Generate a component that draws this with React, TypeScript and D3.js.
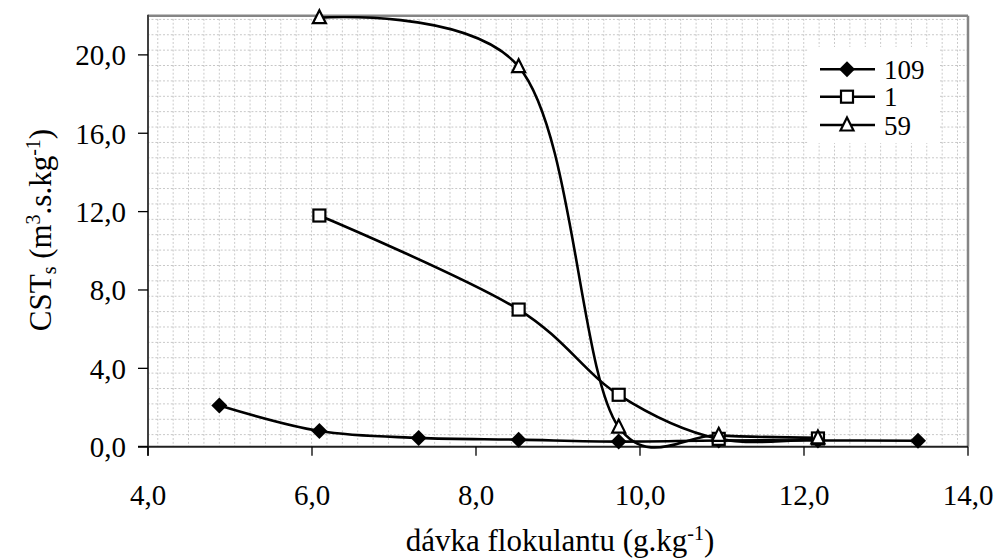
import React from "react";
import * as d3 from "d3";

const xValues = [4.87, 6.09, 7.3, 8.52, 9.74, 10.96, 12.17, 13.39];
const s109 = [2.1, 0.8, 0.45, 0.36, 0.26, 0.32, 0.32, 0.3];
const xShort = [6.09, 8.52, 9.74, 10.96, 12.17];
const s1 = [11.8, 7.0, 2.65, 0.4, 0.42];
const s59 = [21.9, 19.4, 1.0, 0.58, 0.45];
const xTicks = [4, 6, 8, 10, 12, 14];
const yTicks = [0, 4, 8, 12, 16, 20];
const legendLabels = ["109", "1", "59"];

const W = 997, H = 558;
const L = 148, R = 968, T = 15.7, B = 446.7;
const FONT = '"Liberation Serif", "DejaVu Serif", "Noto Serif", "Times New Roman", Times, serif';
const fmt = (v: number) => v.toFixed(1).replace(".", ",");

export default function App() {
  const x = d3.scaleLinear().domain([4, 14]).range([L, R]);
  const y = d3.scaleLinear().domain([0, 22]).range([B, T]);
  const line = d3
    .line<[number, number]>()
    .x((d) => x(d[0]))
    .y((d) => y(d[1]))
    .curve(d3.curveCatmullRom.alpha(0.2));

  const d109 = xValues.map((v, i) => [v, s109[i]] as [number, number]);
  const d1 = xShort.map((v, i) => [v, s1[i]] as [number, number]);
  const d59 = xShort.map((v, i) => [v, s59[i]] as [number, number]);

  const diamond = (cx: number, cy: number, k: string | number) => (
    <path key={k} d={`M${cx},${cy - 8}L${cx + 8},${cy}L${cx},${cy + 8}L${cx - 8},${cy}Z`} fill="#000" />
  );
  const square = (cx: number, cy: number, k: string | number) => (
    <rect key={k} x={cx - 6} y={cy - 6} width={12} height={12} fill="#fff" stroke="#000" strokeWidth={2.2} />
  );
  const triangle = (cx: number, cy: number, k: string | number) => (
    <path key={k} d={`M${cx},${cy - 7.5}L${cx + 6.5},${cy + 5.5}L${cx - 6.5},${cy + 5.5}Z`} fill="#fff" stroke="#000" strokeWidth={2.2} />
  );
  const markers = [diamond, square, triangle];
  const legendY = [69.3, 96.7, 125];

  const ps = 15.38;
  const txt = { fontFamily: FONT };
  return (
    <svg width={W} height={H} style={{ position: "absolute", left: 0, top: 0, fontFamily: FONT }}>
      <defs>
        <pattern id="grid" patternUnits="userSpaceOnUse" width={ps} height={ps} x={157.3} y={18.9}>
          <line x1={0} y1={0} x2={0} y2={ps} stroke="#c4c4c4" strokeWidth={1.8} strokeDasharray="1.9 1.95" />
          <line x1={1.9} y1={0} x2={ps} y2={0} stroke="#c4c4c4" strokeWidth={1.8} strokeDasharray="1.9 1.95" />
        </pattern>
        <clipPath id="plot">
          <rect x={L} y={T} width={R - L} height={B - T + 6} />
        </clipPath>
      </defs>
      <rect x={0} y={0} width={W} height={H} fill="#fff" />
      <rect x={L} y={T} width={R - L} height={B - T} fill="url(#grid)" />
      <rect x={808} y={47} width={132} height={96} fill="#fff" />
      <line x1={L} y1={T} x2={R} y2={T} stroke="#858585" strokeWidth={2.5} />
      <line x1={R} y1={T} x2={R} y2={B} stroke="#858585" strokeWidth={2.5} />
      <line x1={L} y1={T - 1} x2={L} y2={B + 9} stroke="#404040" strokeWidth={2} />
      <line x1={L - 10} y1={B} x2={R} y2={B} stroke="#202020" strokeWidth={2} />
      {yTicks.map((t) => (
        <g key={"y" + t}>
          <line x1={L - 10} x2={L} y1={y(t)} y2={y(t)} stroke="#000" strokeWidth={1.3} />
          <text x={126} y={y(t)} dy="0.36em" textAnchor="end" fontSize={29} fill="#000" style={txt}>
            {fmt(t)}
          </text>
        </g>
      ))}
      {xTicks.map((t) => (
        <g key={"x" + t}>
          <line x1={x(t)} x2={x(t)} y1={B} y2={B + 9} stroke="#000" strokeWidth={1.3} />
          <text x={x(t)} y={505} textAnchor="middle" fontSize={29} fill="#000" style={txt}>
            {fmt(t)}
          </text>
        </g>
      ))}
      <g clipPath="url(#plot)" fill="none" stroke="#000" strokeWidth={2.6}>
        <path d={line(d109) || ""} />
        <path d={line(d1) || ""} />
        <path d={line(d59) || ""} />
      </g>
      {d109.map((d, i) => diamond(x(d[0]), y(d[1]), "a" + i))}
      {d1.map((d, i) => square(x(d[0]), y(d[1]), "b" + i))}
      {d59.map((d, i) => triangle(x(d[0]), y(d[1]), "c" + i))}
      {legendLabels.map((lab, i) => (
        <g key={lab}>
          <line x1={820} x2={875} y1={legendY[i]} y2={legendY[i]} stroke="#000" strokeWidth={2.6} />
          {markers[i](847, legendY[i], "m" + i)}
          <text x={884} y={legendY[i]} dy="0.36em" fontSize={27} fill="#000" style={txt}>
            {lab}
          </text>
        </g>
      ))}
      <text x={560} y={551} textAnchor="middle" fontSize={31} fill="#000" style={txt}>
        dávka flokulantu (g.kg
        <tspan fontSize={20} dy={-11}>-1</tspan>
        <tspan dy={11}>)</tspan>
      </text>
      <text transform="translate(51,230) rotate(-90)" textAnchor="middle" fontSize={31} fill="#000" style={txt}>
        CST
        <tspan fontSize={20} dy={5}>s</tspan>
        <tspan dy={-5}> (m</tspan>
        <tspan fontSize={20} dy={-11}>3</tspan>
        <tspan dy={11}>.s.kg</tspan>
        <tspan fontSize={20} dy={-11}>-1</tspan>
        <tspan dy={11}>)</tspan>
      </text>
    </svg>
  );
}
